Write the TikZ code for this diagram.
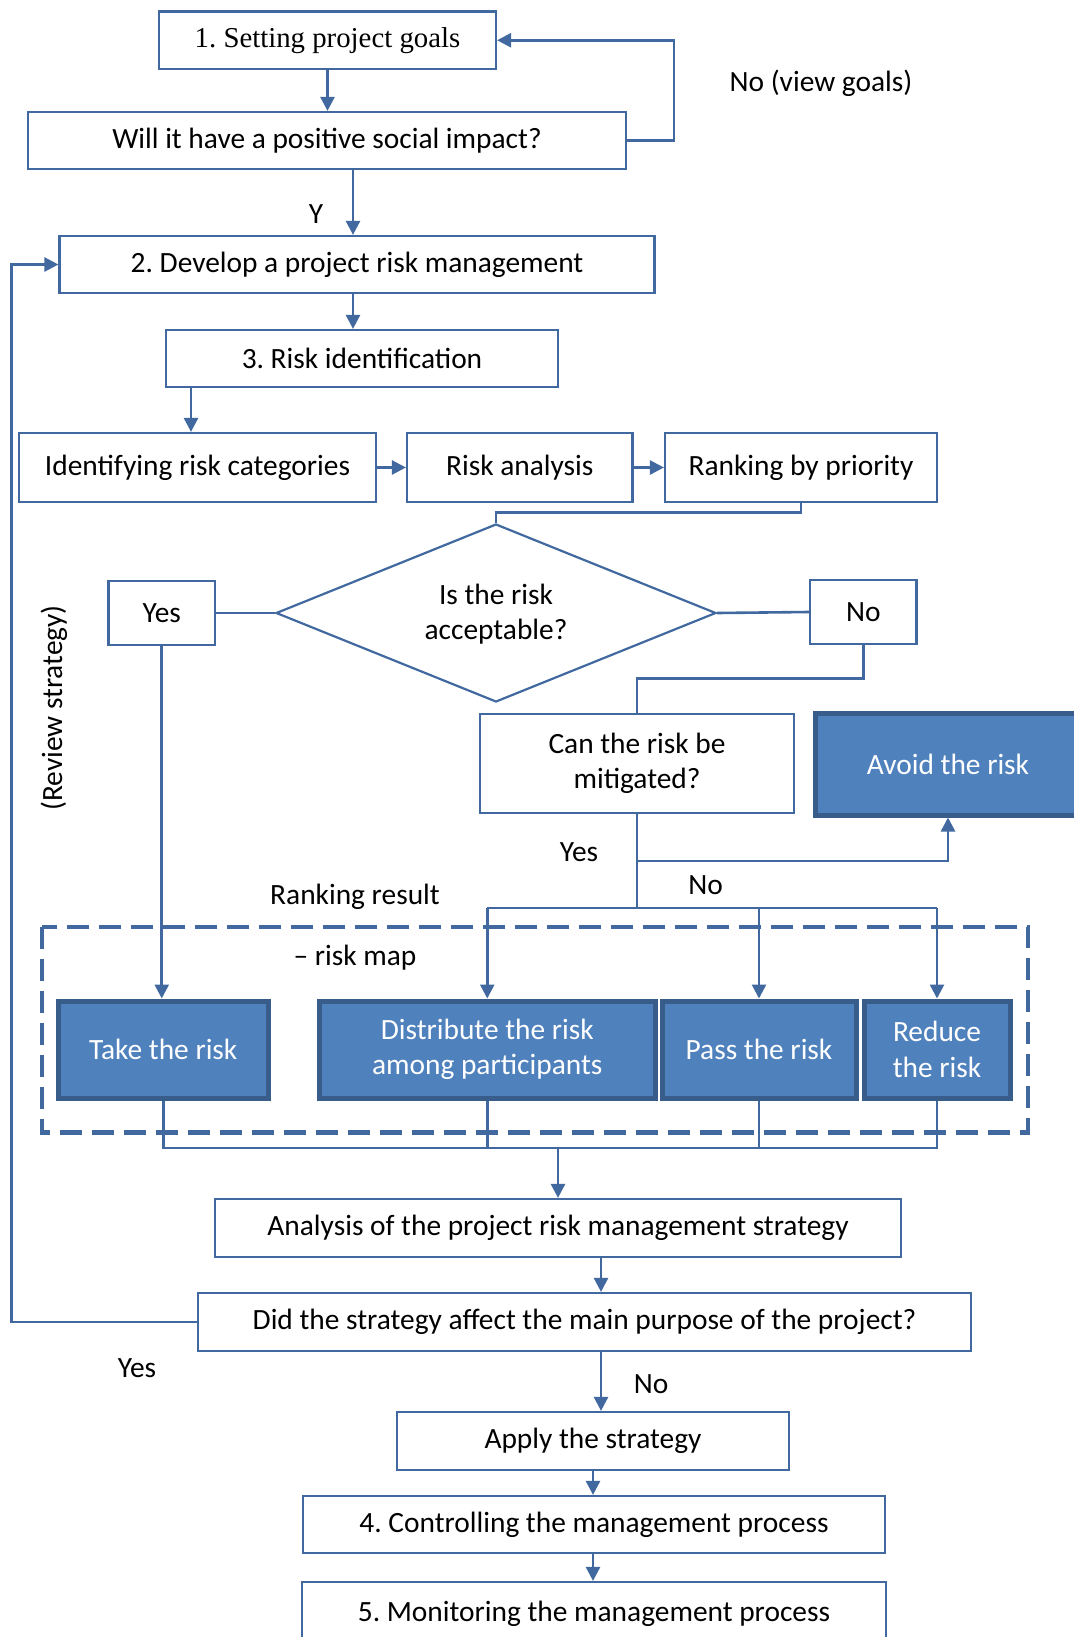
\documentclass[tikz,border=0pt]{standalone}
\usepackage{fontspec}
\setmainfont{Carlito}
\newfontfamily\timesf{Liberation Serif}
\usetikzlibrary{shapes.geometric,arrows.meta}
\frenchspacing
\definecolor{lc}{HTML}{4169A0}
\definecolor{bfill}{HTML}{4F81BD}
\definecolor{bdark}{HTML}{385D8A}
\tikzset{
  wbox/.style={draw=lc, line width=1.1pt, fill=white, inner sep=0pt, align=center, font=\fontsize{14.7}{17.7}\selectfont},
  bbox/.style={draw=bdark, line width=2.5pt, fill=bfill, inner sep=0pt, align=center, text=white, font=\fontsize{14.7}{17.7}\selectfont},
  conn/.style={draw=lc, line width=1.3pt},
  arr/.style={conn, -{Triangle[length=7pt,width=7pt]}},
  lbl/.style={inner sep=0pt, font=\fontsize{14.7}{17.7}\selectfont},
}
\begin{document}
\begin{tikzpicture}[x=0.5pt,y=-0.5pt]
\useasboundingbox (0,0) rectangle (1073,1637);
% columns
\coordinate (c191) at (191,0);
\coordinate (c353) at (353,0);
\coordinate (c496) at (496,512.5);
\coordinate (c637) at (637,678.5);
\coordinate (c601) at (601,0);
\coordinate (c593) at (593,0);
\coordinate (c558) at (558,1148);
% boxes
\node[wbox, minimum width=337*0.5pt, minimum height=57.5*0.5pt, font=\timesf\fontsize{14.4}{18}\selectfont] (goals) at (327.5,40.25) {1. Setting project goals};
\node[wbox, minimum width=598*0.5pt, minimum height=57*0.5pt] (impact) at (327,140.5) {Will it have a positive social impact?};
\node[wbox, minimum width=595*0.5pt, minimum height=57*0.5pt] (develop) at (357,264.5) {2. Develop a project risk management};
\node[wbox, minimum width=392*0.5pt, minimum height=57*0.5pt] (ident) at (362,358.5) {3. Risk identification};
\node[wbox, minimum width=357*0.5pt, minimum height=69*0.5pt] (cat) at (197.5,467.5) {Identifying risk categories};
\node[wbox, minimum width=225.5*0.5pt, minimum height=69*0.5pt] (analysis) at (519.75,467.5) {Risk analysis};
\node[wbox, minimum width=272*0.5pt, minimum height=69*0.5pt] (rank) at (801,467.5) {Ranking by priority};
\node[wbox, shape=diamond, minimum width=440*0.5pt, minimum height=178*0.5pt] (accept) at (496,613) {};
\node[lbl, align=center] (lacc) at (496,614) {Is the risk\\acceptable?};
\node[wbox, minimum width=106.5*0.5pt, minimum height=64*0.5pt] (yes) at (161.75,613) {Yes};
\node[wbox, minimum width=106.5*0.5pt, minimum height=64*0.5pt] (no) at (863.25,612) {No};
\node[wbox, minimum width=314*0.5pt, minimum height=99*0.5pt] (mitig) at (637,763.5) {Can the risk be\\mitigated?};
\node[bbox, minimum width=266*0.5pt, minimum height=102*0.5pt] (avoid) at (948,764) {Avoid the risk};
\node[bbox, minimum width=209.5*0.5pt, minimum height=97*0.5pt] (take) at (163.25,1049.5) {Take the risk};
\node[bbox, minimum width=336.5*0.5pt, minimum height=97*0.5pt] (distr) at (487.25,1049.5) {Distribute the risk\\among participants};
\node[bbox, minimum width=194*0.5pt, minimum height=97*0.5pt] (pass) at (759,1049.5) {Pass the risk};
\node[bbox, minimum width=146*0.5pt, minimum height=97*0.5pt] (reduce) at (937,1049.5) {Reduce\\the risk};
\node[wbox, minimum width=686*0.5pt, minimum height=58*0.5pt] (strat) at (558,1228) {Analysis of the project risk management strategy};
\node[wbox, minimum width=773*0.5pt, minimum height=58*0.5pt] (did) at (584.5,1322) {Did the strategy affect the main purpose of the project?};
\node[wbox, minimum width=392*0.5pt, minimum height=58*0.5pt] (apply) at (593,1441) {Apply the strategy};
\node[wbox, minimum width=582*0.5pt, minimum height=57*0.5pt] (ctrl) at (594,1524.5) {4. Controlling the management process};
\node[wbox, minimum width=584*0.5pt, minimum height=63*0.5pt] (mon) at (594,1613.5) {5. Monitoring the management process};
% dashed frame
\draw[draw=lc, line width=2.2pt, dash pattern=on 11pt off 5pt] (41.8,927) rectangle (1028,1132.5);
% labels
\node[lbl] (lnoview) at (821,83.5) {No (view goals)};
\node[lbl] (ly) at (316,214) {Y};
\node[lbl] (lyes2) at (579,852) {Yes};
\node[lbl] (lno2) at (705.6,885) {No};
\node[lbl] (lrank) at (355,897) {Ranking result};
\node[lbl] (lmap) at (355,958) {– risk map};
\node[lbl] (lyes3) at (137,1368) {Yes};
\node[lbl] (lno3) at (651,1384) {No};
\node[lbl, rotate=90] (lrev) at (54,708) {(Review strategy)};
% connectors
\draw[arr] (goals.south) -- (goals.south |- impact.north);
\draw[arr] (impact.east) -- ++(47,0) |- (goals.east);
\draw[arr] (impact.south -| c353) -- (develop.north -| c353);
\draw[arr] (develop.south -| c353) -- (ident.north -| c353);
\draw[arr] (ident.south -| c191) -- (cat.north -| c191);
\draw[arr] (cat.east) -- (analysis.west);
\draw[arr] (analysis.east) -- (rank.west);
\draw[conn] (rank.south) |- (c496) -- (accept.north);
\draw[conn] (accept.west) -- (yes.east);
\draw[conn] (accept.east) -- (no.west);
\draw[conn] (no.south) |- (c637) -- (mitig.north);
\coordinate (mY) at (637,861);
\coordinate (mN) at (637,908);
\draw[arr] (mitig.south) -- (mY) -| (avoid.south);
\draw[conn] (mY) -- (mN);
\draw[conn] (distr.north |- mN) -- (reduce.north |- mN);
\draw[arr] (distr.north |- mN) -- (distr.north);
\draw[arr] (pass.north |- mN) -- (pass.north);
\draw[arr] (reduce.north |- mN) -- (reduce.north);
\draw[arr] (yes.south) -- (yes.south |- take.north);
\coordinate (bot) at (0,1148);
\draw[conn] (take.south) -- (take.south |- bot) -- (reduce.south |- bot) -- (reduce.south);
\draw[conn] (distr.south) -- (distr.south |- bot);
\draw[conn] (pass.south) -- (pass.south |- bot);
\draw[arr] (c558) -- (strat.north -| c558);
\draw[arr] (strat.south -| c601) -- (did.north -| c601);
\draw[arr] (did.west) -- (11.5,1322) |- (develop.west);
\draw[arr] (did.south -| c601) -- (apply.north -| c601);
\draw[arr] (apply.south -| c593) -- (ctrl.north -| c593);
\draw[arr] (ctrl.south -| c593) -- (mon.north -| c593);
\end{tikzpicture}
\end{document}
